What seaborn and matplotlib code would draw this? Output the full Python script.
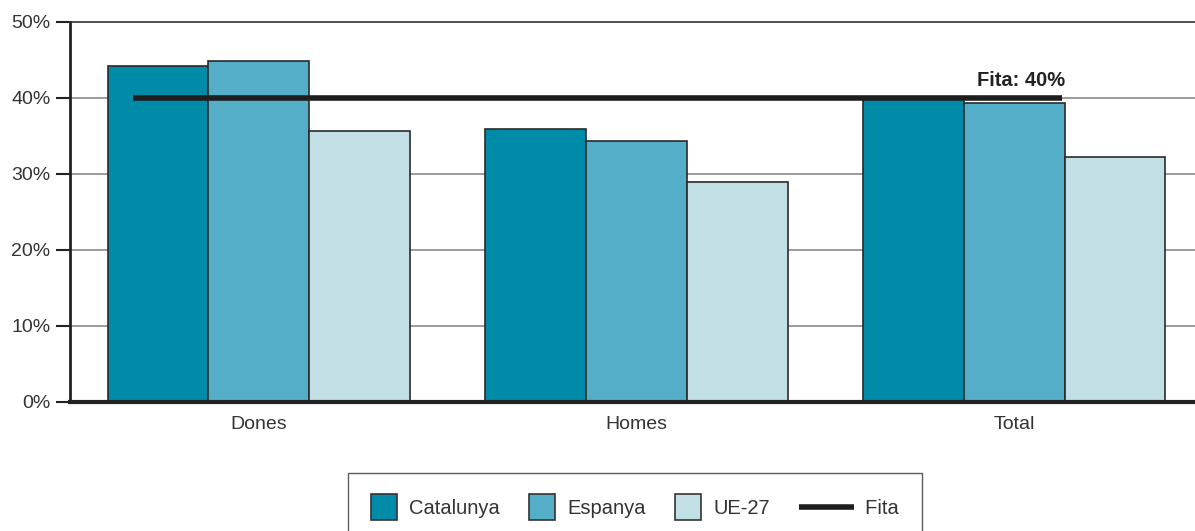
import matplotlib
matplotlib.use("Agg")
import matplotlib.pyplot as plt
import seaborn as sns
import pandas as pd
from matplotlib.patches import Rectangle
from matplotlib.lines import Line2D
from matplotlib.legend_handler import HandlerBase

categories = ["Dones", "Homes", "Total"]
series = ["Catalunya", "Espanya", "UE-27"]
catalunya = [44.2, 35.9, 40.0]
espanya = [44.9, 34.3, 39.4]
ue27 = [35.7, 28.9, 32.3]
fita = 40
yticks = [0, 10, 20, 30, 40, 50]
ytick_labels = ["0%", "10%", "20%", "30%", "40%", "50%"]
colors = ["#008BA8", "#55AEC7", "#C2DFE6"]

df = pd.DataFrame({
    "cat": categories * 3,
    "serie": [s for s in series for _ in categories],
    "val": catalunya + espanya + ue27,
})

sns.set_theme(style="white")
plt.rcParams["font.family"] = ["Liberation Sans", "DejaVu Sans"]

W, H = 1195, 531
fig = plt.figure(figsize=(W / 100, H / 100), dpi=100)
ax = fig.add_axes([70 / W, (H - 402) / H, 1133 / W, (402 - 22) / H])

sns.barplot(data=df, x="cat", y="val", hue="serie", order=categories,
            hue_order=series, palette=colors, saturation=1, edgecolor="#2a2a2a",
            linewidth=1.2, width=0.8, gap=0, ax=ax, legend=False, zorder=3)

ax.set_xlim(-0.5, 2.5)
ax.set_ylim(0, 50)
ax.set_yticks(yticks)
ax.set_yticklabels(ytick_labels)
for y in yticks[1:-1]:
    ax.axhline(y, color="#8a8a8a", lw=1.2, zorder=1)

ax.set_xlabel("")
ax.set_ylabel("")
ax.set_xticks([0, 1, 2])
ax.set_xticklabels(categories)
ax.tick_params(axis="x", length=0, pad=10, labelsize=14, labelcolor="#333333")
ax.set_xticks([-0.5, 0.5, 1.5, 2.5], minor=True)
ax.tick_params(axis="x", which="minor", length=9, width=2, color="#222222", direction="out")
ax.tick_params(axis="y", length=10, width=1.5, color="#222222", direction="out",
               labelsize=14, labelcolor="#333333", pad=4, left=True)

ax.spines["right"].set_visible(False)
ax.spines["top"].set_color("#333333")
ax.spines["top"].set_linewidth(1.2)
ax.spines["left"].set_color("#222222")
ax.spines["left"].set_linewidth(2)
ax.spines["bottom"].set_color("#222222")
ax.spines["bottom"].set_linewidth(3)
ax.spines["bottom"].set_zorder(5)

line, = ax.plot([-0.333, 2.127], [fita, fita], color="#1e1e1e", lw=4, zorder=6,
                solid_capstyle="butt")
ax.text(2.135, fita + 1.0, "Fita: 40%", ha="right", va="bottom", fontsize=14.5,
        fontweight="bold", color="#222222")


class SquareHandler(HandlerBase):
    def create_artists(self, legend, orig, xdescent, ydescent, width, height, fontsize, trans):
        s = width
        r = Rectangle((-xdescent, -ydescent + (height - s) / 2), s, s,
                      facecolor=orig.get_facecolor(), edgecolor="#333333", lw=1.2,
                      transform=trans)
        return [r]


class LongLine(HandlerBase):
    def create_artists(self, legend, orig, xdescent, ydescent, width, height, fontsize, trans):
        yc = -ydescent + height / 2
        l = Line2D([-xdescent, -xdescent + width * 2.1], [yc, yc], color="#1e1e1e",
                   lw=4, transform=trans, solid_capstyle="butt")
        return [l]


handles = [Rectangle((0, 0), 1, 1, facecolor=c) for c in colors] + [line]
labels = series + ["     Fita"]
hmap = {h: SquareHandler() for h in handles[:3]}
hmap[line] = LongLine()
leg = fig.legend(handles, labels, handler_map=hmap, loc="upper center",
                 bbox_to_anchor=(635 / W, (H - 473) / H), ncol=4, frameon=True,
                 fancybox=False, edgecolor="#333333", fontsize=14.5,
                 handlelength=1.3, handleheight=1.3, handletextpad=0.6,
                 columnspacing=1.45, borderpad=1.15, borderaxespad=0)
leg.get_frame().set_linewidth(1.0)
for t in leg.get_texts():
    t.set_color("#333333")

fig.savefig("out.png", dpi=100)
